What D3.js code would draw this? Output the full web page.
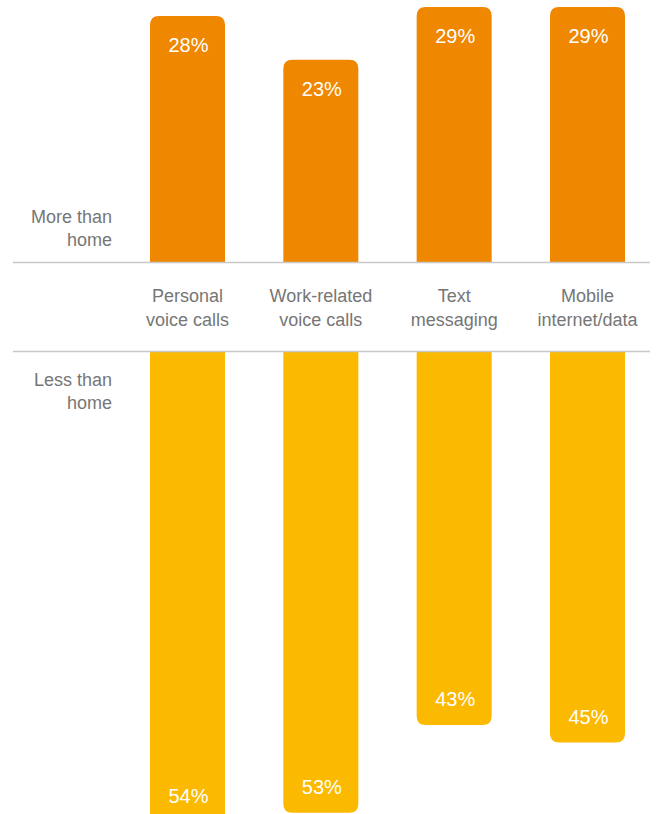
<!DOCTYPE html>
<html>
<head>
<meta charset="utf-8">
<script src="https://cdn.jsdelivr.net/npm/d3@7"></script>
<style>
  html, body { margin: 0; padding: 0; background: #fff; }
  svg { display: block; }
  text { font-family: "Liberation Sans", Arial, Helvetica, sans-serif; }
</style>
</head>
<body>
<div id="chart"></div>
<script>
// ---- data ----
const categories = [
  ["Personal", "voice calls"],
  ["Work-related", "voice calls"],
  ["Text", "messaging"],
  ["Mobile", "internet/data"]
];
const moreThanHome = [28, 23, 29, 29];
const lessThanHome = [54, 53, 43, 45];
const rowLabels = [["More than", "home"], ["Less than", "home"]];

// ---- layout ----
const W = 656, H = 814;
const topBase = 262;
const bottomBase = 347;
const bandTop = 262.5, bandBottom = 351.5;
const orange = "#F08700", yellow = "#FBB900";
const grey = "#767676";
const r = 9;

const svg = d3.select("#chart").append("svg").attr("width", W).attr("height", H);

const x = d3.scaleBand()
  .domain(d3.range(categories.length))
  .range([150, 625])
  .paddingInner(0.4375)
  .paddingOuter(0);

const y = d3.scaleLinear().domain([0, 30]).range([0, 263.7]);

function topBar(x0, w, yTop, yBase, rad) {
  return `M${x0},${yBase}V${yTop + rad}Q${x0},${yTop} ${x0 + rad},${yTop}H${x0 + w - rad}Q${x0 + w},${yTop} ${x0 + w},${yTop + rad}V${yBase}Z`;
}
function bottomBar(x0, w, yBot, yBase, rad) {
  return `M${x0},${yBase}V${yBot - rad}Q${x0},${yBot} ${x0 + rad},${yBot}H${x0 + w - rad}Q${x0 + w},${yBot} ${x0 + w},${yBot - rad}V${yBase}Z`;
}

svg.append("g").selectAll("path")
  .data(lessThanHome)
  .join("path")
  .attr("fill", yellow)
  .attr("d", (d, i) => bottomBar(x(i), x.bandwidth(), bottomBase + y(d), bottomBase, r));

svg.append("rect").attr("x", 0).attr("y", bandTop).attr("width", W).attr("height", bandBottom - bandTop).attr("fill", "#fff");

svg.append("g").selectAll("path")
  .data(moreThanHome)
  .join("path")
  .attr("fill", orange)
  .attr("d", (d, i) => topBar(x(i), x.bandwidth(), topBase - y(d), topBase, r));

[bandTop, bandBottom].forEach(yy => {
  svg.append("line").attr("x1", 13).attr("x2", 650).attr("y1", yy).attr("y2", yy)
    .attr("stroke", "#c8c8c8").attr("stroke-width", 1.3);
});

svg.append("g").selectAll("text")
  .data(moreThanHome)
  .join("text")
  .attr("x", (d, i) => x(i) + x.bandwidth() / 2 + 1)
  .attr("y", d => topBase - y(d) + 36)
  .attr("text-anchor", "middle")
  .attr("fill", "#fff")
  .attr("font-size", 20)
  .text(d => d + "%");

svg.append("g").selectAll("text")
  .data(lessThanHome)
  .join("text")
  .attr("x", (d, i) => x(i) + x.bandwidth() / 2 + 1)
  .attr("y", d => bottomBase + y(d) - 19)
  .attr("text-anchor", "middle")
  .attr("fill", "#fff")
  .attr("font-size", 20)
  .text(d => d + "%");

const cat = svg.append("g").selectAll("text")
  .data(categories)
  .join("text")
  .attr("text-anchor", "middle")
  .attr("fill", grey)
  .attr("font-size", 18);
cat.each(function(d, i) {
  const t = d3.select(this);
  d.forEach((line, j) => {
    t.append("tspan").attr("x", x(i) + x.bandwidth() / 2).attr("y", 302 + j * 24).text(line);
  });
});

const rowY = [223, 386];
rowLabels.forEach((lines, k) => {
  const t = svg.append("text").attr("text-anchor", "end").attr("fill", grey).attr("font-size", 18);
  lines.forEach((line, j) => {
    t.append("tspan").attr("x", 112).attr("y", rowY[k] + j * 23).text(line);
  });
});
</script>
</body>
</html>
